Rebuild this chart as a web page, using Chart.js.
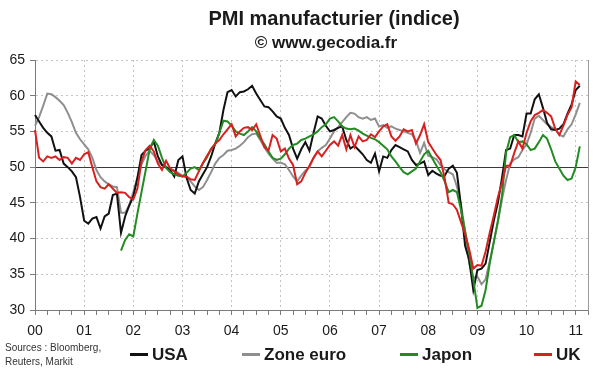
<!DOCTYPE html>
<html>
<head>
<meta charset="utf-8">
<script src="https://cdn.jsdelivr.net/npm/chart.js@4.4.1/dist/chart.umd.min.js"></script>
<style>
  body { margin: 0; background: #fff; }
  #wrap { position: relative; width: 600px; height: 372px; background: #fff; font-family: "Liberation Sans", Arial, sans-serif; color: #1a1a1a; }
  canvas { position: absolute; left: 0; top: 0; }
  .t { position: absolute; white-space: nowrap; font-weight: bold; transform: translateX(-50%); }
  .src { position: absolute; left: 5px; top: 341px; font-size: 10px; line-height: 14px; color: #333; }
  .lg { position: absolute; top: 345px; font-size: 17px; font-weight: bold; white-space: nowrap; line-height: 20px; }
  .lg span { display: inline-block; width: 18px; height: 3px; vertical-align: middle; margin-right: 4px; position: relative; top: -1px; }
</style>
</head>
<body>
<div id="wrap">
  <canvas id="myChart" width="600" height="372"></canvas>
  <div class="t" style="left:334px; top:7px; font-size:20px;">PMI manufacturier (indice)</div>
  <div class="t" style="left:326px; top:33px; font-size:17px;">© www.gecodia.fr</div>
  <div class="src">Sources : Bloomberg,<br>Reuters, Markit</div>
  <div class="lg" style="left:130px"><span style="background:#111"></span>USA</div>
  <div class="lg" style="left:242px"><span style="background:#8f8f8f"></span>Zone euro</div>
  <div class="lg" style="left:400px"><span style="background:#228b22"></span>Japon</div>
  <div class="lg" style="left:534px"><span style="background:#d92020"></span>UK</div>
</div>
<script>
// year labels on the x axis, one per January
const yearLabels = ['00', '01', '02', '03', '04', '05', '06', '07', '08', '09', '10', '11'];

// monthly PMI, Jan 2000 -> Feb 2011
const usa = [
  57.3, 56.4, 55.5, 54.8, 54.3, 52.3, 52.4, 50.5, 50.0, 49.4, 48.6, 45.8,
  42.5, 42.1, 42.8, 43.0, 41.4, 43.1, 43.5, 46.1, 46.3, 40.8, 43.1, 44.6,
  45.9, 48.5, 51.7, 52.3, 52.6, 53.6, 51.5, 50.3, 50.0, 49.6, 48.7, 51.0,
  51.5, 48.5, 46.8, 46.3, 48.0, 49.0, 50.0, 51.5, 53.3, 54.8, 58.0, 60.5,
  60.8, 59.9, 60.5, 60.6, 60.9, 61.4, 60.3, 59.4, 58.5, 58.4, 57.8, 57.1,
  56.8, 55.5, 54.5, 52.6, 51.2, 52.5, 53.5, 52.3, 54.8, 57.1, 56.8, 55.8,
  55.0, 55.2, 55.5, 55.7, 53.8, 52.6, 53.0, 52.4, 51.8, 51.0, 50.6, 51.9,
  49.4, 51.5, 51.3, 52.4, 53.1, 52.8, 52.5, 52.2, 51.0, 50.3, 50.5, 50.8,
  48.9, 49.5, 49.1, 48.8, 48.8, 49.8, 50.2, 49.2, 44.5, 39.0, 37.0, 32.8,
  35.6, 35.8, 36.5, 39.5, 42.5, 45.0, 48.5, 52.4, 52.6, 54.5, 54.5, 54.3,
  57.5, 57.5, 59.5, 60.2, 58.3, 56.2, 55.3, 55.2, 55.4, 56.0, 57.5, 58.8,
  60.8, 61.4
];
const zoneEuro = [
  55.8, 57.0, 58.6, 60.3, 60.2, 59.8, 59.3, 58.7, 57.6, 56.3, 54.8, 53.9,
  53.2, 52.5, 51.3, 49.6, 48.6, 48.0, 47.6, 47.3, 47.2, 43.6, 43.6, 44.7,
  46.5, 48.5, 50.4, 51.6, 52.3, 51.7, 50.8, 50.3, 50.0, 49.8, 49.5, 49.2,
  48.8, 48.6, 48.0, 47.3, 46.8, 47.2, 48.2, 49.3, 50.5, 51.3, 51.7, 52.3,
  52.4, 52.6, 53.0, 53.5, 54.2, 54.6, 54.7, 53.8, 52.8, 51.9, 51.2, 50.6,
  50.6, 50.4, 49.6, 48.7, 48.0, 48.8, 49.5, 50.0, 51.3, 52.2, 52.7, 53.1,
  54.0, 55.0, 55.6, 56.3, 57.0, 57.6, 57.5, 57.0, 56.8, 57.0, 56.6, 56.8,
  55.7, 55.9, 55.5, 55.7, 55.4, 55.2, 55.0, 54.8, 54.6, 53.7, 52.0, 53.4,
  51.6, 51.4, 51.1, 50.3, 49.7, 49.3, 49.0, 47.3, 44.8, 41.0, 36.5, 34.5,
  34.7, 33.6, 34.3, 36.8, 39.5, 42.3, 45.5, 48.2, 50.5, 51.1, 51.4, 52.4,
  53.2, 54.8, 56.8, 57.2, 56.6, 56.0, 55.6, 55.3, 54.5, 54.3, 55.3, 56.0,
  57.4, 59.0
];
// Japan series starts in Oct 2001
const japon = [
  null, null, null, null, null, null, null, null, null, null, null, null,
  null, null, null, null, null, null, null, null, null, 38.3, 39.8, 40.6,
  40.3, 43.5, 46.5, 49.5, 52.5, 53.8, 53.0, 51.3, 49.9, 49.3, 49.0, 48.8,
  48.7, 49.2, 49.8, 50.0, 49.6, 50.5, 51.4, 52.6, 53.2, 54.8, 56.5, 56.4,
  55.8, 55.0, 54.7, 54.5, 55.0, 55.6, 55.0, 54.0, 53.2, 52.2, 51.3, 51.0,
  51.2, 51.8, 52.6, 53.1, 53.3, 53.8, 54.0, 54.3, 54.6, 55.0, 55.6, 56.0,
  56.8, 57.0, 56.4, 55.7, 55.4, 55.3, 55.4, 55.1, 54.7, 54.4, 54.1, 53.9,
  53.5, 53.0, 52.5, 51.5, 50.8, 50.0, 49.3, 49.0, 49.4, 49.8, 50.8, 51.8,
  52.3, 51.2, 50.2, 49.3, 48.0, 46.5, 46.8, 46.5, 44.0, 41.0, 38.0, 34.3,
  30.3, 30.6, 32.8, 36.5, 39.5, 42.5, 46.0, 52.0, 54.2, 54.5, 53.5, 53.6,
  53.2, 52.4, 52.6, 53.5, 54.5, 54.0, 52.5, 50.8, 49.8, 48.8, 48.2, 48.4,
  50.0, 52.9
];
const uk = [
  55.2, 51.3, 50.8, 51.5, 51.3, 51.5, 51.0, 51.4, 51.3, 50.5, 51.3, 51.0,
  51.8, 52.1, 50.0, 48.0, 47.2, 47.0, 47.6, 47.0, 46.4, 46.5, 46.4, 45.8,
  45.5, 47.0, 50.8, 52.4, 53.0, 52.2, 50.5, 49.6, 50.9, 49.8, 49.4, 49.0,
  48.7, 48.7, 48.3, 48.2, 49.4, 50.6, 51.6, 52.5, 53.3, 53.8, 54.6, 55.3,
  56.0, 54.3, 55.0, 55.5, 55.6, 55.2, 56.0, 54.4, 52.8, 52.3, 54.5, 54.0,
  52.2, 52.6, 51.2, 50.3, 47.6, 48.0, 49.2, 50.2, 51.3, 52.2, 51.5, 52.3,
  53.1, 53.6, 53.0, 54.5, 52.5, 54.5, 52.8, 54.3, 53.6, 53.8, 54.6, 54.2,
  55.0, 55.7, 56.0, 54.3, 53.7, 54.3, 55.3, 55.0, 55.2, 53.3, 54.5, 56.0,
  53.5, 52.6, 51.7, 51.0, 48.5, 45.0, 44.8, 44.0, 42.3, 40.6, 38.5, 35.8,
  36.3, 36.2, 38.2, 40.8, 43.2, 45.8, 47.8, 50.2, 50.2, 52.0, 53.6, 52.6,
  54.8, 56.4, 57.3, 57.6, 58.0, 57.6, 57.1, 55.4, 54.5, 55.8, 57.3, 58.4,
  62.0, 61.5
];

// one category per month, axis runs to Apr 2011
const months = [];
for (let y = 0; y < yearLabels.length; y++) {
  for (let m = 1; m <= 12; m++) {
    if (months.length < 136) months.push(yearLabels[y] + '-' + m);
  }
}

const font = { family: '"Liberation Sans", Arial, sans-serif', size: 14 };
const ctx = document.getElementById('myChart');

new Chart(ctx, {
  type: 'line',
  data: {
    labels: months,
    datasets: [
      { label: 'USA', data: usa, borderColor: '#111', order: 3 },
      { label: 'Zone euro', data: zoneEuro, borderColor: '#8f8f8f', order: 4 },
      { label: 'Japon', data: japon, borderColor: '#228b22', order: 2 },
      { label: 'UK', data: uk, borderColor: '#d92020', order: 1 }
    ]
  },
  options: {
    responsive: false,
    animation: false,
    layout: { padding: { top: 60, right: 12, bottom: 30, left: 0 } },
    elements: {
      line: { borderWidth: 2, tension: 0 },
      point: { radius: 0 }
    },
    scales: {
      x: {
        type: 'category',
        offset: false,
        ticks: {
          autoSkip: false,
          maxRotation: 0,
          padding: 8,
          color: '#1a1a1a',
          font: font,
          callback: (v, i) => i % 12 === 0 ? yearLabels[i / 12] : ''
        },
        grid: {
          offset: false,
          color: c => (c.index % 12 === 0 && c.index > 0) ? '#c4c4c4' : 'rgba(0,0,0,0)',
          tickColor: c => c.index % 3 === 0 ? '#7a7a7a' : 'rgba(0,0,0,0)',
          tickLength: 5
        },
        border: { color: '#7a7a7a', dash: [2, 3] },
        afterFit: s => { s.height = 32; }
      },
      y: {
        min: 30,
        max: 65,
        ticks: { stepSize: 5, padding: 5, color: '#1a1a1a', font: font },
        grid: {
          color: c => c.tick && c.tick.value === 50 ? '#3a3a3a' : (c.tick && c.tick.value === 30 ? 'rgba(0,0,0,0)' : '#c4c4c4'),
          tickColor: '#7a7a7a',
          tickLength: 5
        },
        border: { color: '#7a7a7a', dash: c => (c.tick && c.tick.value === 50) ? [] : [2, 3] },
        afterFit: s => { s.width = 35; }
      },
      yr: {
        position: 'right',
        ticks: { display: false },
        grid: { drawOnChartArea: false, drawTicks: false },
        border: { color: '#9a9a9a' },
        afterFit: s => { s.width = 0; }
      }
    },
    plugins: {
      legend: { display: false },
      tooltip: { enabled: false }
    }
  }
});
</script>
</body>
</html>
